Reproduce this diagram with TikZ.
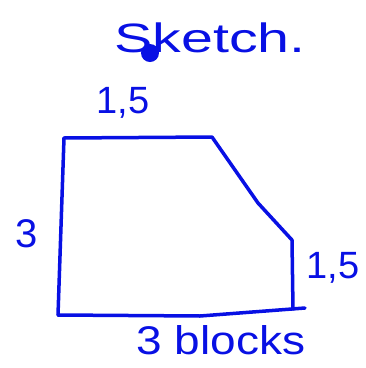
\documentclass[tikz,border=0pt]{standalone}
\usepackage{fontspec}
\setmainfont{Liberation Sans}
\definecolor{ink}{RGB}{8,16,228}
\begin{document}
\begin{tikzpicture}[x=1pt,y=-1pt,
  pen/.style={draw=ink,line width=3.5pt,line cap=round,line join=round},
  hand/.style={text=ink,inner sep=0pt,anchor=center}]
\useasboundingbox (0,0) rectangle (366,368);
% shape
\coordinate (tl) at (64,138);
\coordinate (tr) at (212,137);
\coordinate (dm) at (258,203);
\coordinate (rt) at (292,240);
\coordinate (rb) at (293,309);
\coordinate (be) at (305,308);
\coordinate (bl) at (58,315);
\draw[pen] (tl) -- (tr) -- (dm) -- (rt) -- (rb);
\draw[pen] (tl) -- (bl);
\draw[pen] (bl) -- (200,316) -- (be);
% labels
\node[hand,font=\fontsize{41}{41}\selectfont,xscale=1.4] (title) at (210,38) {Sketch.};
\fill[ink] (150,53) circle (9);
\node[hand,font=\fontsize{38}{38}\selectfont] (top) at (123,103) {1,5};
\node[hand,font=\fontsize{40}{40}\selectfont] (left) at (27,234) {3};
\node[hand,font=\fontsize{38}{38}\selectfont] (right) at (333,268) {1,5};
\node[hand,font=\fontsize{40}{40}\selectfont,xscale=1.15] (bottom) at (221,340) {3 blocks};
\end{tikzpicture}
\end{document}
